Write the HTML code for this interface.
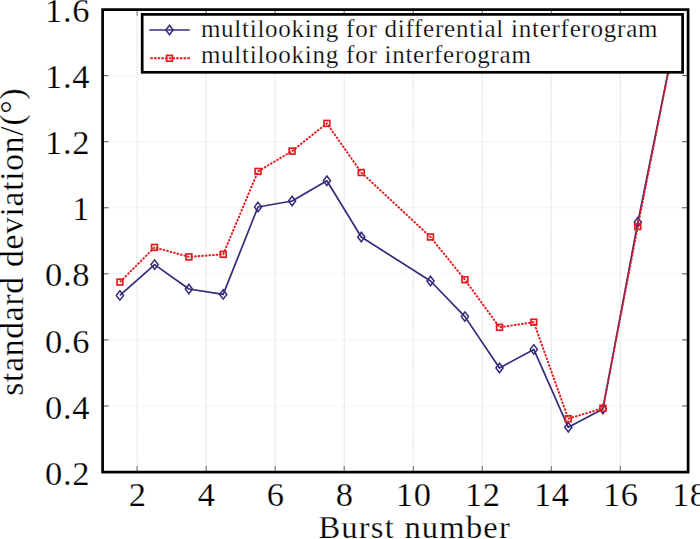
<!DOCTYPE html><html><head><meta charset="utf-8"><style>
html,body{margin:0;padding:0;background:#fff;width:700px;height:539px;overflow:hidden}
svg{display:block}
text{font-family:"Liberation Serif",serif;fill:#000;stroke:#fff;stroke-width:0.25px}
</style></head><body>
<svg width="700" height="539" viewBox="0 0 700 539">
<rect x="0" y="0" width="700" height="539" fill="#fff"/>
<line x1="137.11" y1="9.6" x2="137.11" y2="472.1" stroke="#c6c6c6" stroke-width="1" stroke-dasharray="1,1.5"/>
<line x1="206.14" y1="9.6" x2="206.14" y2="472.1" stroke="#c6c6c6" stroke-width="1" stroke-dasharray="1,1.5"/>
<line x1="275.17" y1="9.6" x2="275.17" y2="472.1" stroke="#c6c6c6" stroke-width="1" stroke-dasharray="1,1.5"/>
<line x1="344.20" y1="9.6" x2="344.20" y2="472.1" stroke="#c6c6c6" stroke-width="1" stroke-dasharray="1,1.5"/>
<line x1="413.23" y1="9.6" x2="413.23" y2="472.1" stroke="#c6c6c6" stroke-width="1" stroke-dasharray="1,1.5"/>
<line x1="482.25" y1="9.6" x2="482.25" y2="472.1" stroke="#c6c6c6" stroke-width="1" stroke-dasharray="1,1.5"/>
<line x1="551.28" y1="9.6" x2="551.28" y2="472.1" stroke="#c6c6c6" stroke-width="1" stroke-dasharray="1,1.5"/>
<line x1="620.31" y1="9.6" x2="620.31" y2="472.1" stroke="#c6c6c6" stroke-width="1" stroke-dasharray="1,1.5"/>
<line x1="102.6" y1="405.94" x2="688.1" y2="405.94" stroke="#ececec" stroke-width="1" stroke-dasharray="1,1"/>
<line x1="102.6" y1="339.89" x2="688.1" y2="339.89" stroke="#ececec" stroke-width="1" stroke-dasharray="1,1"/>
<line x1="102.6" y1="273.83" x2="688.1" y2="273.83" stroke="#ececec" stroke-width="1" stroke-dasharray="1,1"/>
<line x1="102.6" y1="207.77" x2="688.1" y2="207.77" stroke="#ececec" stroke-width="1" stroke-dasharray="1,1"/>
<line x1="102.6" y1="141.71" x2="688.1" y2="141.71" stroke="#ececec" stroke-width="1" stroke-dasharray="1,1"/>
<line x1="102.6" y1="75.66" x2="688.1" y2="75.66" stroke="#ececec" stroke-width="1" stroke-dasharray="1,1"/>
<line x1="137.11" y1="472.1" x2="137.11" y2="466.1" stroke="#666" stroke-width="1"/>
<line x1="137.11" y1="9.6" x2="137.11" y2="15.6" stroke="#666" stroke-width="1"/>
<line x1="206.14" y1="472.1" x2="206.14" y2="466.1" stroke="#666" stroke-width="1"/>
<line x1="206.14" y1="9.6" x2="206.14" y2="15.6" stroke="#666" stroke-width="1"/>
<line x1="275.17" y1="472.1" x2="275.17" y2="466.1" stroke="#666" stroke-width="1"/>
<line x1="275.17" y1="9.6" x2="275.17" y2="15.6" stroke="#666" stroke-width="1"/>
<line x1="344.20" y1="472.1" x2="344.20" y2="466.1" stroke="#666" stroke-width="1"/>
<line x1="344.20" y1="9.6" x2="344.20" y2="15.6" stroke="#666" stroke-width="1"/>
<line x1="413.23" y1="472.1" x2="413.23" y2="466.1" stroke="#666" stroke-width="1"/>
<line x1="413.23" y1="9.6" x2="413.23" y2="15.6" stroke="#666" stroke-width="1"/>
<line x1="482.25" y1="472.1" x2="482.25" y2="466.1" stroke="#666" stroke-width="1"/>
<line x1="482.25" y1="9.6" x2="482.25" y2="15.6" stroke="#666" stroke-width="1"/>
<line x1="551.28" y1="472.1" x2="551.28" y2="466.1" stroke="#666" stroke-width="1"/>
<line x1="551.28" y1="9.6" x2="551.28" y2="15.6" stroke="#666" stroke-width="1"/>
<line x1="620.31" y1="472.1" x2="620.31" y2="466.1" stroke="#666" stroke-width="1"/>
<line x1="620.31" y1="9.6" x2="620.31" y2="15.6" stroke="#666" stroke-width="1"/>
<line x1="102.6" y1="405.94" x2="108.6" y2="405.94" stroke="#555" stroke-width="1"/>
<line x1="688.1" y1="405.94" x2="682.1" y2="405.94" stroke="#555" stroke-width="1"/>
<line x1="102.6" y1="339.89" x2="108.6" y2="339.89" stroke="#555" stroke-width="1"/>
<line x1="688.1" y1="339.89" x2="682.1" y2="339.89" stroke="#555" stroke-width="1"/>
<line x1="102.6" y1="273.83" x2="108.6" y2="273.83" stroke="#555" stroke-width="1"/>
<line x1="688.1" y1="273.83" x2="682.1" y2="273.83" stroke="#555" stroke-width="1"/>
<line x1="102.6" y1="207.77" x2="108.6" y2="207.77" stroke="#555" stroke-width="1"/>
<line x1="688.1" y1="207.77" x2="682.1" y2="207.77" stroke="#555" stroke-width="1"/>
<line x1="102.6" y1="141.71" x2="108.6" y2="141.71" stroke="#555" stroke-width="1"/>
<line x1="688.1" y1="141.71" x2="682.1" y2="141.71" stroke="#555" stroke-width="1"/>
<line x1="102.6" y1="75.66" x2="108.6" y2="75.66" stroke="#555" stroke-width="1"/>
<line x1="688.1" y1="75.66" x2="682.1" y2="75.66" stroke="#555" stroke-width="1"/>
<polyline points="119.9,295.4 154.6,264.6 188.9,289 223.2,294.4 258,207 292.1,201 326.9,180.7 361.3,237 430.5,281 464.9,316.6 499.5,368 533.8,349.4 568.3,427.3 602.9,409.1 637.8,222.3 671.4,56" fill="none" stroke="#322c7c" stroke-width="1.7" stroke-linejoin="round"/>
<path d="M119.9 290.7L123.5 295.4L119.9 300.09999999999997L116.30000000000001 295.4Z" fill="none" stroke="#322c7c" stroke-width="1.5"/>
<path d="M154.6 259.90000000000003L158.2 264.6L154.6 269.3L151.0 264.6Z" fill="none" stroke="#322c7c" stroke-width="1.5"/>
<path d="M188.9 284.3L192.5 289L188.9 293.7L185.3 289Z" fill="none" stroke="#322c7c" stroke-width="1.5"/>
<path d="M223.2 289.7L226.79999999999998 294.4L223.2 299.09999999999997L219.6 294.4Z" fill="none" stroke="#322c7c" stroke-width="1.5"/>
<path d="M258 202.3L261.6 207L258 211.7L254.4 207Z" fill="none" stroke="#322c7c" stroke-width="1.5"/>
<path d="M292.1 196.3L295.70000000000005 201L292.1 205.7L288.5 201Z" fill="none" stroke="#322c7c" stroke-width="1.5"/>
<path d="M326.9 176.0L330.5 180.7L326.9 185.39999999999998L323.29999999999995 180.7Z" fill="none" stroke="#322c7c" stroke-width="1.5"/>
<path d="M361.3 232.3L364.90000000000003 237L361.3 241.7L357.7 237Z" fill="none" stroke="#322c7c" stroke-width="1.5"/>
<path d="M430.5 276.3L434.1 281L430.5 285.7L426.9 281Z" fill="none" stroke="#322c7c" stroke-width="1.5"/>
<path d="M464.9 311.90000000000003L468.5 316.6L464.9 321.3L461.29999999999995 316.6Z" fill="none" stroke="#322c7c" stroke-width="1.5"/>
<path d="M499.5 363.3L503.1 368L499.5 372.7L495.9 368Z" fill="none" stroke="#322c7c" stroke-width="1.5"/>
<path d="M533.8 344.7L537.4 349.4L533.8 354.09999999999997L530.1999999999999 349.4Z" fill="none" stroke="#322c7c" stroke-width="1.5"/>
<path d="M568.3 422.6L571.9 427.3L568.3 432.0L564.6999999999999 427.3Z" fill="none" stroke="#322c7c" stroke-width="1.5"/>
<path d="M602.9 404.40000000000003L606.5 409.1L602.9 413.8L599.3 409.1Z" fill="none" stroke="#322c7c" stroke-width="1.5"/>
<path d="M637.8 217.60000000000002L641.4 222.3L637.8 227.0L634.1999999999999 222.3Z" fill="none" stroke="#322c7c" stroke-width="1.5"/>
<polyline points="119.9,282.1 154.5,247.4 188.9,256.9 223.2,254.3 258,171.4 292.1,151.1 326.9,123.4 361.3,172.5 430.5,237 464.9,279.7 499.5,327.3 533.8,322.2 568.3,418.7 602.9,408.3 637.8,226.5 671.4,56" fill="none" stroke="#e31b1f" stroke-width="1.9" stroke-dasharray="2.4,1.2"/>
<rect x="117.00" y="279.20" width="5.8" height="5.8" fill="none" stroke="#e31b1f" stroke-width="1.7"/>
<rect x="151.60" y="244.50" width="5.8" height="5.8" fill="none" stroke="#e31b1f" stroke-width="1.7"/>
<rect x="186.00" y="254.00" width="5.8" height="5.8" fill="none" stroke="#e31b1f" stroke-width="1.7"/>
<rect x="220.30" y="251.40" width="5.8" height="5.8" fill="none" stroke="#e31b1f" stroke-width="1.7"/>
<rect x="255.10" y="168.50" width="5.8" height="5.8" fill="none" stroke="#e31b1f" stroke-width="1.7"/>
<rect x="289.20" y="148.20" width="5.8" height="5.8" fill="none" stroke="#e31b1f" stroke-width="1.7"/>
<rect x="324.00" y="120.50" width="5.8" height="5.8" fill="none" stroke="#e31b1f" stroke-width="1.7"/>
<rect x="358.40" y="169.60" width="5.8" height="5.8" fill="none" stroke="#e31b1f" stroke-width="1.7"/>
<rect x="427.60" y="234.10" width="5.8" height="5.8" fill="none" stroke="#e31b1f" stroke-width="1.7"/>
<rect x="462.00" y="276.80" width="5.8" height="5.8" fill="none" stroke="#e31b1f" stroke-width="1.7"/>
<rect x="496.60" y="324.40" width="5.8" height="5.8" fill="none" stroke="#e31b1f" stroke-width="1.7"/>
<rect x="530.90" y="319.30" width="5.8" height="5.8" fill="none" stroke="#e31b1f" stroke-width="1.7"/>
<rect x="565.40" y="415.80" width="5.8" height="5.8" fill="none" stroke="#e31b1f" stroke-width="1.7"/>
<rect x="600.00" y="405.40" width="5.8" height="5.8" fill="none" stroke="#e31b1f" stroke-width="1.7"/>
<rect x="634.90" y="223.60" width="5.8" height="5.8" fill="none" stroke="#e31b1f" stroke-width="1.7"/>
<rect x="102.6" y="9.6" width="585.50" height="462.50" fill="none" stroke="#000" stroke-width="2.7"/>
<rect x="142.2" y="14.4" width="540.4" height="57.9" fill="#fff" stroke="#000" stroke-width="2.7"/>
<line x1="149.4" y1="30" x2="189.7" y2="30" stroke="#322c7c" stroke-width="1.7"/>
<path d="M169.5 25.3L173.1 30L169.5 34.7L165.9 30Z" fill="none" stroke="#322c7c" stroke-width="1.5"/>
<line x1="150.3" y1="58.3" x2="190" y2="58.3" stroke="#e31b1f" stroke-width="1.9" stroke-dasharray="2.5,1.2"/>
<rect x="166.60" y="55.40" width="5.8" height="5.8" fill="none" stroke="#e31b1f" stroke-width="1.7"/>
<text x="200.9" y="36.5" font-size="25" letter-spacing="0.75">multilooking for differential interferogram</text>
<text x="200.9" y="63.1" font-size="25" letter-spacing="0.75">multilooking for interferogram</text>
<text x="90" y="484.6" font-size="34.5" text-anchor="end" letter-spacing="0.6">0.2</text>
<text x="90" y="418.5" font-size="34.5" text-anchor="end" letter-spacing="0.6">0.4</text>
<text x="90" y="352.5" font-size="34.5" text-anchor="end" letter-spacing="0.6">0.6</text>
<text x="90" y="286.4" font-size="34.5" text-anchor="end" letter-spacing="0.6">0.8</text>
<text x="90" y="220.4" font-size="34.5" text-anchor="end" letter-spacing="0.6">1</text>
<text x="90" y="154.3" font-size="34.5" text-anchor="end" letter-spacing="0.6">1.2</text>
<text x="90" y="88.3" font-size="34.5" text-anchor="end" letter-spacing="0.6">1.4</text>
<text x="90" y="22.2" font-size="34.5" text-anchor="end" letter-spacing="0.6">1.6</text>
<text x="137.6" y="505.9" font-size="34.5" text-anchor="middle" letter-spacing="0.6">2</text>
<text x="206.6" y="505.9" font-size="34.5" text-anchor="middle" letter-spacing="0.6">4</text>
<text x="275.7" y="505.9" font-size="34.5" text-anchor="middle" letter-spacing="0.6">6</text>
<text x="344.7" y="505.9" font-size="34.5" text-anchor="middle" letter-spacing="0.6">8</text>
<text x="413.7" y="505.9" font-size="34.5" text-anchor="middle" letter-spacing="0.6">10</text>
<text x="482.8" y="505.9" font-size="34.5" text-anchor="middle" letter-spacing="0.6">12</text>
<text x="551.8" y="505.9" font-size="34.5" text-anchor="middle" letter-spacing="0.6">14</text>
<text x="620.8" y="505.9" font-size="34.5" text-anchor="middle" letter-spacing="0.6">16</text>
<text x="689.8" y="505.9" font-size="34.5" text-anchor="middle" letter-spacing="0.6">18</text>
<text x="318.4" y="538" font-size="32.5" letter-spacing="1.24">Burst number</text>
<text transform="translate(23,395.7) rotate(-90)" x="0" y="0" font-size="33.5" letter-spacing="0.75">standard deviation/(°)</text>
</svg></body></html>
